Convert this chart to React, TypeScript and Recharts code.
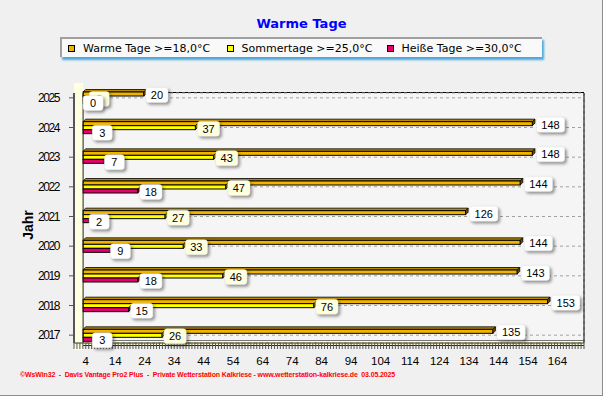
import React from 'react';
import {
  BarChart,
  Bar,
  XAxis,
  YAxis,
  CartesianGrid,
  Legend,
  LabelList,
  ReferenceArea,
  ReferenceLine,
} from 'recharts';

const years = ['2025', '2024', '2023', '2022', '2021', '2020', '2019', '2018', '2017'];
const warmDays = [20, 148, 148, 144, 126, 144, 143, 153, 135];
const summerDays = [2, 37, 43, 47, 27, 33, 46, 76, 26];
const hotDays = [0, 3, 7, 18, 2, 9, 18, 15, 3];

const xTickLabels = [4, 14, 24, 34, 44, 54, 64, 74, 84, 94, 104, 114, 124, 134, 144, 154, 164];
const gridTicks = [4, 14, 24, 34, 44, 54, 64, 74, 84, 94, 104, 114, 124, 134, 144, 154];
// small ruler marks along the bottom axis, one per unit
const minorTicks = Array.from({ length: 174 }, (_, i) => i);

const series = [
  { key: 'warm', name: 'Warme Tage >=18,0°C', color: '#F0B400', top: '#B88A00', side: '#6E4A00', box: '#FFFFFF' },
  { key: 'summer', name: 'Sommertage >=25,0°C', color: '#FFFF00', top: '#C8C800', side: '#7A7A00', box: '#FFFFE0' },
  { key: 'hot', name: 'Heiße Tage >=30,0°C', color: '#E6006E', top: '#A00048', side: '#70001E', box: '#FFFFFF' },
];

const data = years.map((year, i) => ({
  year,
  warm: warmDays[i],
  summer: summerDays[i],
  hot: hotDays[i],
}));

const SANS = '"Liberation Sans", Arial, sans-serif';
const D = 2.5;

const Bar3D = (props: any) => {
  const { x, y, width, height, fill, topFill, sideFill, withTop } = props;
  const w = Math.max(width || 0, 0);
  return (
    <g>
      {withTop && (
        <polygon
          points={`${x},${y} ${x + D},${y - D} ${x + w + D},${y - D} ${x + w},${y}`}
          fill={topFill}
          stroke="#000"
          strokeWidth={0.8}
        />
      )}
      <rect x={x} y={y} width={w} height={height} fill={fill} stroke="#000" strokeWidth={1} />
      <polygon
        points={`${x + w},${y} ${x + w + D},${y - D} ${x + w + D},${y + height - D} ${x + w},${y + height}`}
        fill={sideFill}
        stroke="#000"
        strokeWidth={0.8}
      />
    </g>
  );
};

const makeLabel = (boxFill: string) => (props: any) => {
  const { x, y, width, height, value } = props;
  const s = String(value);
  const bw = Math.max(20, s.length * 6.1 + 10);
  const left = x + width + s.length * 2 - 2;
  const cy = y + height / 2 + 1;
  return (
    <g>
      <rect
        x={left}
        y={cy - 7.5}
        width={bw}
        height={15}
        rx={3}
        fill={boxFill}
        stroke="#E4E4E4"
        strokeWidth={0.5}
        style={{ filter: 'drop-shadow(2px 2px 1.5px rgba(0,0,0,0.4))' }}
      />
      <text x={left + bw / 2} y={cy} dy="0.36em" textAnchor="middle" fontSize={11} fontFamily={SANS} fill="#000">
        {s}
      </text>
    </g>
  );
};

const XTick = (props: any) => {
  const { x, y, payload } = props;
  if (!xTickLabels.includes(payload.value)) return <g />;
  return (
    <text x={x} y={y} dy="0.71em" textAnchor="middle" fontSize={11.5} fontFamily={SANS} fill="#000">
      {payload.value}
    </text>
  );
};

const itemOffsets = [6, 164.5, 324.5];

const LegendBox = () => (
  <div
    style={{
      position: 'relative',
      boxSizing: 'border-box',
      width: 482,
      height: 20,
      background: '#F9F9F9',
      borderTop: '2px solid #A0A0A0',
      borderLeft: '2px solid #A0A0A0',
      boxShadow: '2px 3px 2px #4FA8DC',
      fontFamily: '"DejaVu Sans", sans-serif',
      fontSize: 11,
      color: '#000',
    }}
  >
    {series.map((s, i) => (
      <div key={s.key} style={{ position: 'absolute', left: itemOffsets[i], top: 0, height: 18, display: 'flex', alignItems: 'center', whiteSpace: 'nowrap' }}>
        <span style={{ display: 'inline-block', boxSizing: 'border-box', width: 7, height: 7, background: s.color, border: '1px solid #000', marginRight: 8 }} />
        <span>{s.name}</span>
      </div>
    ))}
  </div>
);

export default function App() {
  return (
    <div
      style={{
        position: 'absolute',
        left: 0,
        top: 0,
        width: 603,
        height: 396,
        boxSizing: 'border-box',
        background: '#F0F0F0',
        borderRight: '1px solid #8C8C8C',
        borderBottom: '1px solid #8C8C8C',
        overflow: 'hidden',
      }}
    >
      <div
        style={{
          position: 'absolute',
          left: 0,
          top: 16,
          width: 603,
          textAlign: 'center',
          fontFamily: '"DejaVu Sans", sans-serif',
          fontWeight: 'bold',
          fontSize: 13,
          color: '#0000FF',
        }}
      >
        Warme Tage
      </div>

      {/* plot box back, top edge and floor, drawn under the chart */}
      <div style={{ position: 'absolute', left: 74, top: 92, width: 510, height: 251, background: '#F5F5F5', borderTop: '1px solid #000' }} />
      <div
        style={{
          position: 'absolute',
          left: 76,
          top: 340,
          width: 508,
          height: 4,
          background: '#FFFFC8',
          borderTop: '1px solid #777',
          borderBottom: '1px solid #222',
        }}
      />

      <div style={{ position: 'absolute', left: 0, top: 0 }}>
        <BarChart
          layout="vertical"
          width={603}
          height={396}
          data={data}
          margin={{ top: 93, right: 19, bottom: 13, left: 14 }}
          barGap={0}
        >
          <CartesianGrid xAxisId="bars" stroke="#A0A0A0" strokeDasharray="3 3" />
          <XAxis
            xAxisId="bars"
            type="number"
            domain={[-3, 165]}
            ticks={gridTicks}
            allowDataOverflow
            height={0}
            tick={false}
            axisLine={false}
            tickLine={false}
          />
          <XAxis
            xAxisId="labels"
            type="number"
            domain={[0, 173]}
            allowDataOverflow
            ticks={minorTicks}
            interval={0}
            height={40}
            tickSize={6}
            tickMargin={8}
            tickLine={{ stroke: '#555' }}
            axisLine={{ stroke: '#333' }}
            tick={<XTick />}
          />
          <YAxis
            dataKey="year"
            type="category"
            width={60}
            padding={{ top: -10, bottom: -7 }}
            tickSize={5}
            tickMargin={10}
            axisLine={{ stroke: '#555', strokeWidth: 2 }}
            tickLine={{ stroke: '#555' }}
            tick={{ fontSize: 12, fontFamily: SANS, fill: '#000', letterSpacing: -1.4 }}
          />
          <ReferenceArea xAxisId="bars" x1={-3} x2={0} fill="#FFFFE1" fillOpacity={1} stroke="none" />
          <ReferenceLine xAxisId="bars" x={0} stroke="#222" />
          <ReferenceLine xAxisId="bars" x={165} stroke="#000" />
          <Legend
            layout="horizontal"
            align="center"
            verticalAlign="middle"
            content={<LegendBox />}
            wrapperStyle={{ left: 60, top: 37, width: 482, height: 20 }}
          />
          {series.map((s, i) => (
            <Bar
              key={s.key}
              dataKey={s.key}
              name={s.name}
              xAxisId="bars"
              fill={s.color}
              barSize={4}
              isAnimationActive={false}
              shape={(p: any) => <Bar3D {...p} topFill={s.top} sideFill={s.side} withTop={i === 0} />}
            >
              <LabelList dataKey={s.key} content={makeLabel(s.box)} />
            </Bar>
          ))}
        </BarChart>
      </div>

      <div
        style={{
          position: 'absolute',
          left: 8,
          top: 217,
          width: 40,
          textAlign: 'center',
          transform: 'rotate(-90deg)',
          fontFamily: SANS,
          fontWeight: 'bold',
          fontSize: 14,
          color: '#000',
        }}
      >
        Jahr
      </div>

      <div
        style={{
          position: 'absolute',
          left: 20,
          top: 371,
          fontFamily: SANS,
          fontWeight: 'bold',
          fontSize: 7,
          letterSpacing: -0.13,
          color: '#FF0000',
          whiteSpace: 'pre',
        }}
      >
        {'©WsWin32  -  Davis Vantage Pro2 Plus  -  Private Wetterstation Kalkriese - www.wetterstation-kalkriese.de  03.05.2025'}
      </div>
    </div>
  );
}
